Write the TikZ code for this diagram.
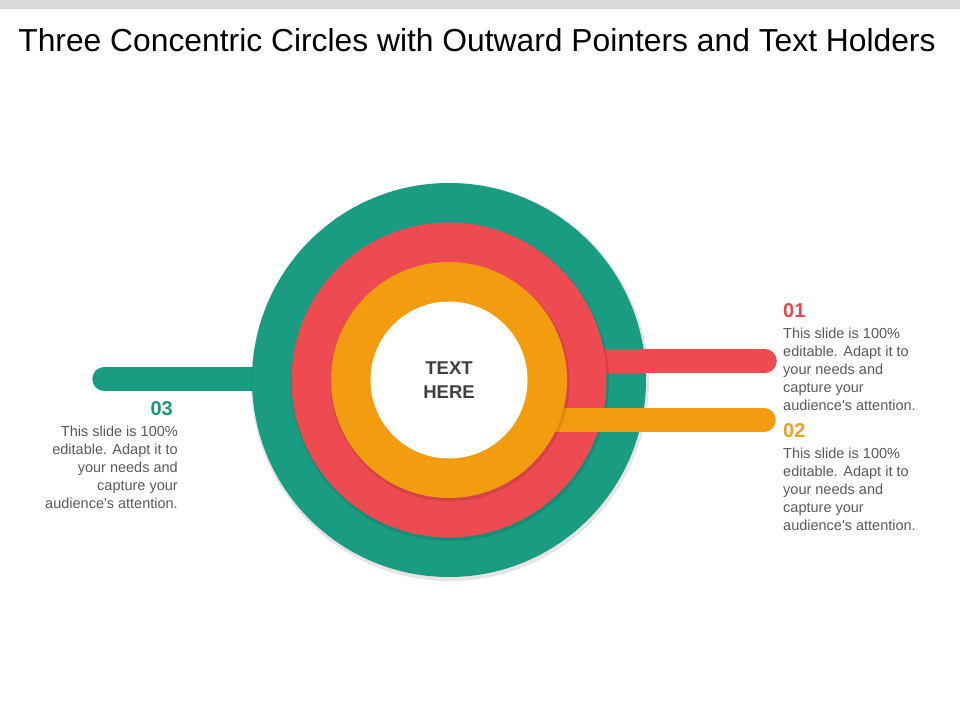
\documentclass[tikz,border=0pt]{standalone}
\usepackage{fontspec}
\setmainfont{Liberation Sans}
\usetikzlibrary{positioning}
\definecolor{ringgreen}{HTML}{1A9C83}
\definecolor{ringred}{HTML}{EE4A51}
\definecolor{ringorange}{HTML}{F39C0F}
\definecolor{numred}{HTML}{DE4A50}
\definecolor{numorange}{HTML}{E9A227}
\definecolor{numgreen}{HTML}{1A9680}
\definecolor{bodygray}{HTML}{595959}
\definecolor{centregray}{HTML}{3F3F3F}
\definecolor{topgray}{HTML}{D9D9D9}

\begin{document}
\begin{tikzpicture}[x=1pt,y=1pt]
\tikzstyle{bar}=[line width=23.5pt,line cap=round]
\tikzstyle{shade}=[fill=black,opacity=0.10]
\tikzstyle{num}=[inner sep=0pt,font=\fontsize{20}{24}\selectfont\bfseries]
\tikzstyle{body}=[inner sep=0pt,text=bodygray,font=\fontsize{14.5}{18}\selectfont]
\useasboundingbox (0,0) rectangle (960,-720);
\fill[topgray] (0,0) rectangle (960,-9);
\node[anchor=base,inner sep=0pt,font=\fontsize{31.8}{36}\selectfont] (title) at (477,-51)
  {Three Concentric Circles with Outward Pointers and Text Holders};

\coordinate (O) at (449,-380);
% free ends of the pointers
\coordinate (G) at (104,-379);
\coordinate (R) at (765,-361);
\coordinate (Y) at (764,-420);

% outer ring
\draw[bar,ringgreen] (G) -- (O |- G);
\fill[shade] ([shift={(1,-2)}]O) circle (199);
\fill[ringgreen] (O) circle (197);
% middle ring
\draw[bar,ringred] (O |- R) -- (R);
\fill[shade] ([shift={(1,-2)}]O) circle (159);
\fill[ringred] (O) circle (157.5);
% inner ring
\draw[bar,ringorange] (O |- Y) -- (Y);
\fill[shade] ([shift={(1,-2)}]O) circle (119.5);
\fill[ringorange] (O) circle (118);
\fill[white] (O) circle (78.5);
\node[align=center,inner sep=0pt,text=centregray,font=\fontsize{18.5}{24}\selectfont\bfseries] (centre) at (O) {TEXT\\HERE};

% text holders
\node[num,text=numred,anchor=base west] (n01) at (783,-317) {01};
\node[body,align=left,below=10pt of n01.south west,anchor=north west] (t01)
  {This slide is 100\%\\editable. Adapt it to\\your needs and\\capture your\\audience\textquotesingle s attention.};
\node[num,text=numorange,anchor=base west] (n02) at (783,-437) {02};
\node[body,align=left,below=10pt of n02.south west,anchor=north west] (t02)
  {This slide is 100\%\\editable. Adapt it to\\your needs and\\capture your\\audience\textquotesingle s attention.};
\node[num,text=numgreen,anchor=base east] (n03) at (173,-415) {03};
\node[body,align=right,below=10pt of n03.south east,anchor=north east,xshift=5pt] (t03)
  {This slide is 100\%\\editable. Adapt it to\\your needs and\\capture your\\audience\textquotesingle s attention.};
\end{tikzpicture}
\end{document}
